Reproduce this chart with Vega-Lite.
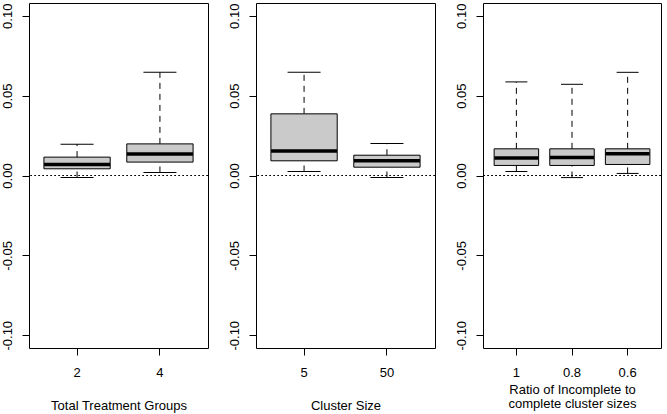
{
  "$schema": "https://vega.github.io/schema/vega-lite/v6.json",
  "padding": {"left": 0, "top": 2, "right": 4, "bottom": 0},
  "background": "white",
  "spacing": 48,
  "bounds": "flush",
  "data": {"values": [
    {"panel": "A", "group": "2", "lower": -0.0013, "q1": 0.0042, "median": 0.0069, "q3": 0.0115, "upper": 0.0196},
    {"panel": "A", "group": "4", "lower": 0.0019, "q1": 0.0084, "median": 0.0134, "q3": 0.0198, "upper": 0.0646},
    {"panel": "B", "group": "5", "lower": 0.0025, "q1": 0.0092, "median": 0.0154, "q3": 0.0386, "upper": 0.0646},
    {"panel": "B", "group": "50", "lower": -0.0013, "q1": 0.0052, "median": 0.0092, "q3": 0.0127, "upper": 0.0200},
    {"panel": "C", "group": "1", "lower": 0.0025, "q1": 0.0063, "median": 0.0109, "q3": 0.0167, "upper": 0.0586},
    {"panel": "C", "group": "0.8", "lower": -0.0013, "q1": 0.0063, "median": 0.0113, "q3": 0.0167, "upper": 0.0571},
    {"panel": "C", "group": "0.6", "lower": 0.0013, "q1": 0.0069, "median": 0.0136, "q3": 0.0167, "upper": 0.0646}
  ]},
  "config": {
    "font": "Liberation Sans",
    "view": {"stroke": "black", "strokeWidth": 1},
    "axis": {
      "grid": false, "domain": false, "tickColor": "black", "tickSize": 7, "tickWidth": 1,
      "labelColor": "black", "labelFont": "Liberation Sans", "labelFontSize": 13,
      "titleFont": "Liberation Sans", "titleFontSize": 13, "titleFontWeight": "normal", "titleColor": "black"
    },
    "axisX": {"labelAngle": 0, "labelPadding": 11, "titlePadding": 20, "titleLineHeight": 14},
    "axisY": {"labelAngle": 270, "labelAlign": "center", "labelBaseline": "alphabetic", "labelPadding": 11}
  },
  "hconcat": [
    {
      "width": 179, "height": 345,
      "transform": [{"filter": "datum.panel == 'A'"}],
      "layer": [
        {"mark": {"type": "rule", "strokeDash": [6, 5], "color": "black"},
         "encoding": {"x": {"field": "group", "type": "ordinal", "sort": ["2", "4"], "title": "Total Treatment Groups", "scale": {"paddingInner": 0.2, "paddingOuter": 0.18}},
                      "y": {"field": "q3", "type": "quantitative", "title": null, "scale": {"domain": [-0.108, 0.108], "nice": false, "zero": false}, "axis": {"values": [-0.1, -0.05, 0, 0.05, 0.1], "labelExpr": "replace(format(datum.value, '.2f'), '\u2212', '-')"}}, "y2": {"field": "upper"}}},
        {"mark": {"type": "rule", "strokeDash": [6, 5], "color": "black"},
         "encoding": {"x": {"field": "group", "type": "ordinal", "sort": ["2", "4"], "title": "Total Treatment Groups"},
                      "y": {"field": "lower", "type": "quantitative", "title": null, "axis": {"values": [-0.1, -0.05, 0, 0.05, 0.1], "labelExpr": "replace(format(datum.value, '.2f'), '\u2212', '-')"}}, "y2": {"field": "q1"}}},
        {"mark": {"type": "tick", "orient": "horizontal", "size": 33, "thickness": 1, "color": "black", "opacity": 1},
         "encoding": {"x": {"field": "group", "type": "ordinal", "sort": ["2", "4"], "title": "Total Treatment Groups"},
                      "y": {"field": "upper", "type": "quantitative", "title": null, "axis": {"values": [-0.1, -0.05, 0, 0.05, 0.1], "labelExpr": "replace(format(datum.value, '.2f'), '\u2212', '-')"}}}},
        {"mark": {"type": "tick", "orient": "horizontal", "size": 33, "thickness": 1, "color": "black", "opacity": 1},
         "encoding": {"x": {"field": "group", "type": "ordinal", "sort": ["2", "4"], "title": "Total Treatment Groups"},
                      "y": {"field": "lower", "type": "quantitative", "title": null, "axis": {"values": [-0.1, -0.05, 0, 0.05, 0.1], "labelExpr": "replace(format(datum.value, '.2f'), '\u2212', '-')"}}}},
        {"mark": {"type": "bar", "fill": "#cacaca", "stroke": "black", "strokeWidth": 1, "opacity": 1},
         "encoding": {"x": {"field": "group", "type": "ordinal", "sort": ["2", "4"], "title": "Total Treatment Groups"},
                      "y": {"field": "q1", "type": "quantitative", "title": null, "axis": {"values": [-0.1, -0.05, 0, 0.05, 0.1], "labelExpr": "replace(format(datum.value, '.2f'), '\u2212', '-')"}}, "y2": {"field": "q3"}}},
        {"mark": {"type": "tick", "orient": "horizontal", "size": 66, "thickness": 3.5, "color": "black", "opacity": 1},
         "encoding": {"x": {"field": "group", "type": "ordinal", "sort": ["2", "4"], "title": "Total Treatment Groups"},
                      "y": {"field": "median", "type": "quantitative", "title": null, "axis": {"values": [-0.1, -0.05, 0, 0.05, 0.1], "labelExpr": "replace(format(datum.value, '.2f'), '\u2212', '-')"}}}},
        {"mark": {"type": "rule", "strokeDash": [1.5, 2.5], "color": "black"},
         "encoding": {"y": {"datum": 0, "type": "quantitative", "title": null, "axis": {"values": [-0.1, -0.05, 0, 0.05, 0.1], "labelExpr": "replace(format(datum.value, '.2f'), '\u2212', '-')"}}}}
      ]
    },
    {
      "width": 179, "height": 345,
      "transform": [{"filter": "datum.panel == 'B'"}],
      "layer": [
        {"mark": {"type": "rule", "strokeDash": [6, 5], "color": "black"},
         "encoding": {"x": {"field": "group", "type": "ordinal", "sort": ["5", "50"], "title": "Cluster Size", "scale": {"paddingInner": 0.2, "paddingOuter": 0.18}},
                      "y": {"field": "q3", "type": "quantitative", "title": null, "scale": {"domain": [-0.108, 0.108], "nice": false, "zero": false}, "axis": {"values": [-0.1, -0.05, 0, 0.05, 0.1], "labelExpr": "replace(format(datum.value, '.2f'), '\u2212', '-')"}}, "y2": {"field": "upper"}}},
        {"mark": {"type": "rule", "strokeDash": [6, 5], "color": "black"},
         "encoding": {"x": {"field": "group", "type": "ordinal", "sort": ["5", "50"], "title": "Cluster Size"},
                      "y": {"field": "lower", "type": "quantitative", "title": null, "axis": {"values": [-0.1, -0.05, 0, 0.05, 0.1], "labelExpr": "replace(format(datum.value, '.2f'), '\u2212', '-')"}}, "y2": {"field": "q1"}}},
        {"mark": {"type": "tick", "orient": "horizontal", "size": 33, "thickness": 1, "color": "black", "opacity": 1},
         "encoding": {"x": {"field": "group", "type": "ordinal", "sort": ["5", "50"], "title": "Cluster Size"},
                      "y": {"field": "upper", "type": "quantitative", "title": null, "axis": {"values": [-0.1, -0.05, 0, 0.05, 0.1], "labelExpr": "replace(format(datum.value, '.2f'), '\u2212', '-')"}}}},
        {"mark": {"type": "tick", "orient": "horizontal", "size": 33, "thickness": 1, "color": "black", "opacity": 1},
         "encoding": {"x": {"field": "group", "type": "ordinal", "sort": ["5", "50"], "title": "Cluster Size"},
                      "y": {"field": "lower", "type": "quantitative", "title": null, "axis": {"values": [-0.1, -0.05, 0, 0.05, 0.1], "labelExpr": "replace(format(datum.value, '.2f'), '\u2212', '-')"}}}},
        {"mark": {"type": "bar", "fill": "#cacaca", "stroke": "black", "strokeWidth": 1, "opacity": 1},
         "encoding": {"x": {"field": "group", "type": "ordinal", "sort": ["5", "50"], "title": "Cluster Size"},
                      "y": {"field": "q1", "type": "quantitative", "title": null, "axis": {"values": [-0.1, -0.05, 0, 0.05, 0.1], "labelExpr": "replace(format(datum.value, '.2f'), '\u2212', '-')"}}, "y2": {"field": "q3"}}},
        {"mark": {"type": "tick", "orient": "horizontal", "size": 66, "thickness": 3.5, "color": "black", "opacity": 1},
         "encoding": {"x": {"field": "group", "type": "ordinal", "sort": ["5", "50"], "title": "Cluster Size"},
                      "y": {"field": "median", "type": "quantitative", "title": null, "axis": {"values": [-0.1, -0.05, 0, 0.05, 0.1], "labelExpr": "replace(format(datum.value, '.2f'), '\u2212', '-')"}}}},
        {"mark": {"type": "rule", "strokeDash": [1.5, 2.5], "color": "black"},
         "encoding": {"y": {"datum": 0, "type": "quantitative", "title": null, "axis": {"values": [-0.1, -0.05, 0, 0.05, 0.1], "labelExpr": "replace(format(datum.value, '.2f'), '\u2212', '-')"}}}}
      ]
    },
    {
      "width": 178, "height": 345,
      "transform": [{"filter": "datum.panel == 'C'"}],
      "layer": [
        {"mark": {"type": "rule", "strokeDash": [6, 5], "color": "black"},
         "encoding": {"x": {"field": "group", "type": "ordinal", "sort": ["1", "0.8", "0.6"], "title": ["Ratio of Incomplete to", "complete cluster sizes"], "axis": {"titlePadding": 4}, "scale": {"paddingInner": 0.2, "paddingOuter": 0.2}},
                      "y": {"field": "q3", "type": "quantitative", "title": null, "scale": {"domain": [-0.108, 0.108], "nice": false, "zero": false}, "axis": {"values": [-0.1, -0.05, 0, 0.05, 0.1], "labelExpr": "replace(format(datum.value, '.2f'), '\u2212', '-')"}}, "y2": {"field": "upper"}}},
        {"mark": {"type": "rule", "strokeDash": [6, 5], "color": "black"},
         "encoding": {"x": {"field": "group", "type": "ordinal", "sort": ["1", "0.8", "0.6"], "title": ["Ratio of Incomplete to", "complete cluster sizes"], "axis": {"titlePadding": 4}},
                      "y": {"field": "lower", "type": "quantitative", "title": null, "axis": {"values": [-0.1, -0.05, 0, 0.05, 0.1], "labelExpr": "replace(format(datum.value, '.2f'), '\u2212', '-')"}}, "y2": {"field": "q1"}}},
        {"mark": {"type": "tick", "orient": "horizontal", "size": 22, "thickness": 1, "color": "black", "opacity": 1},
         "encoding": {"x": {"field": "group", "type": "ordinal", "sort": ["1", "0.8", "0.6"], "title": ["Ratio of Incomplete to", "complete cluster sizes"], "axis": {"titlePadding": 4}},
                      "y": {"field": "upper", "type": "quantitative", "title": null, "axis": {"values": [-0.1, -0.05, 0, 0.05, 0.1], "labelExpr": "replace(format(datum.value, '.2f'), '\u2212', '-')"}}}},
        {"mark": {"type": "tick", "orient": "horizontal", "size": 22, "thickness": 1, "color": "black", "opacity": 1},
         "encoding": {"x": {"field": "group", "type": "ordinal", "sort": ["1", "0.8", "0.6"], "title": ["Ratio of Incomplete to", "complete cluster sizes"], "axis": {"titlePadding": 4}},
                      "y": {"field": "lower", "type": "quantitative", "title": null, "axis": {"values": [-0.1, -0.05, 0, 0.05, 0.1], "labelExpr": "replace(format(datum.value, '.2f'), '\u2212', '-')"}}}},
        {"mark": {"type": "bar", "fill": "#cacaca", "stroke": "black", "strokeWidth": 1, "opacity": 1},
         "encoding": {"x": {"field": "group", "type": "ordinal", "sort": ["1", "0.8", "0.6"], "title": ["Ratio of Incomplete to", "complete cluster sizes"], "axis": {"titlePadding": 4}},
                      "y": {"field": "q1", "type": "quantitative", "title": null, "axis": {"values": [-0.1, -0.05, 0, 0.05, 0.1], "labelExpr": "replace(format(datum.value, '.2f'), '\u2212', '-')"}}, "y2": {"field": "q3"}}},
        {"mark": {"type": "tick", "orient": "horizontal", "size": 44, "thickness": 3.5, "color": "black", "opacity": 1},
         "encoding": {"x": {"field": "group", "type": "ordinal", "sort": ["1", "0.8", "0.6"], "title": ["Ratio of Incomplete to", "complete cluster sizes"], "axis": {"titlePadding": 4}},
                      "y": {"field": "median", "type": "quantitative", "title": null, "axis": {"values": [-0.1, -0.05, 0, 0.05, 0.1], "labelExpr": "replace(format(datum.value, '.2f'), '\u2212', '-')"}}}},
        {"mark": {"type": "rule", "strokeDash": [1.5, 2.5], "color": "black"},
         "encoding": {"y": {"datum": 0, "type": "quantitative", "title": null, "axis": {"values": [-0.1, -0.05, 0, 0.05, 0.1], "labelExpr": "replace(format(datum.value, '.2f'), '\u2212', '-')"}}}}
      ]
    }
  ]
}
